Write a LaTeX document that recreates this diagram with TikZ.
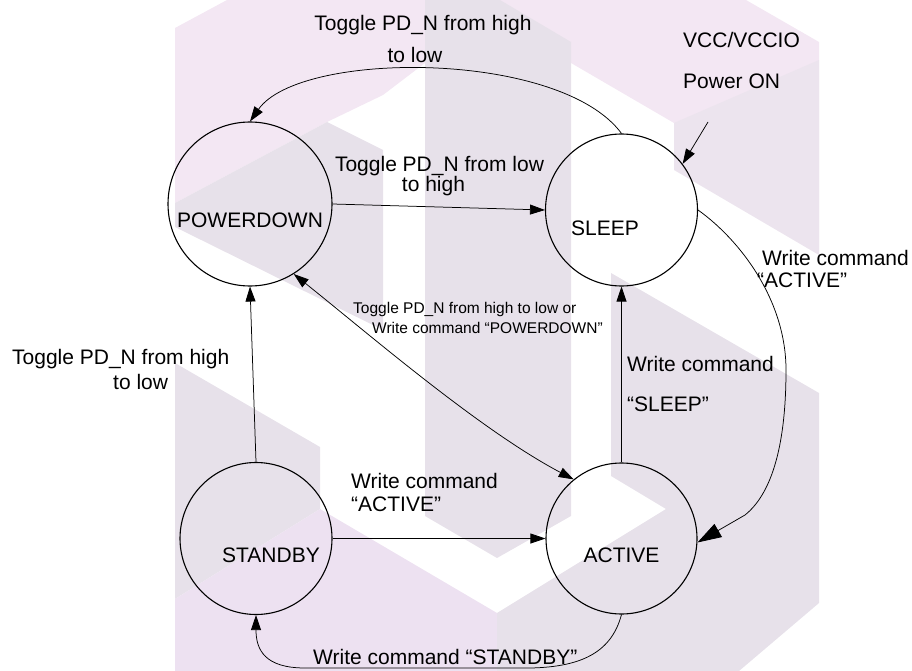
\documentclass[tikz,border=0pt]{standalone}
\usepackage{fontspec}
\setmainfont{Liberation Sans}
\usetikzlibrary{arrows.meta}
\definecolor{wmP}{HTML}{F3E7F3}
\definecolor{wmG}{HTML}{E7E1EA}
\definecolor{wmQ}{HTML}{ECE4EE}
\definecolor{wmL}{HTML}{EDE1F1}
\begin{document}
\begin{tikzpicture}[x=1pt,y=-1pt,
  state/.style={circle,draw,line width=1.1pt,inner sep=0pt},
  lbl/.style={inner sep=0pt,text height=15pt,text depth=0pt,font=\fontsize{21}{24}\selectfont},
  slbl/.style={inner sep=0pt,text height=11pt,text depth=0pt,font=\fontsize{15.5}{18}\selectfont},
  conn/.style={line width=0.75pt,-{Triangle[length=15pt,width=10pt]}},
  bigconn/.style={line width=0.75pt,-{Triangle[length=24pt,width=15pt]}},
  dblconn/.style={line width=0.75pt,{Triangle[length=15pt,width=10pt]}-{Triangle[length=15pt,width=10pt]}}]
\useasboundingbox (0,0) rectangle (912,671);
% watermark
\fill[wmP] (175,28) -- (227,0) -- (746,0) -- (819,42) -- (819,250) -- (674,167) -- (674,123) -- (571,63) -- (425,63) -- (383,95) -- (327,122) -- (175,203) -- cycle;
\fill[wmQ] (674,123) -- (819,60) -- (819,255) -- (674,170) -- cycle;
\fill[wmG] (425,0) -- (500,0) -- (571,42) -- (571,516) -- (497,558) -- (425,516) -- cycle;
\fill[wmG] (175,203) -- (327,122) -- (383,150) -- (383,330) -- (175,227) -- cycle;
\fill[wmG] (175,363) -- (320,447) -- (320,509) -- (175,599) -- cycle;
\fill[wmL] (175,599) -- (320,509) -- (497,613) -- (497,671) -- (175,671) -- cycle;
\fill[wmG] (611,273) -- (819,393) -- (819,603) -- (739,671) -- (497,671) -- (497,613) -- (666,509) -- (611,476) -- cycle;
% states
\node[state,minimum size=164pt] (pd) at (250,204) {};
\node[state,minimum size=152pt] (sl) at (621.5,210) {};
\node[state,minimum size=152pt] (sb) at (256,538.5) {};
\node[state,minimum size=151pt] (ac) at (621.5,538.5) {};
\node[lbl] (pdt) at (250,220) {POWERDOWN};
\node[lbl] (slt) at (605,227.5) {SLEEP};
\node[lbl] (sbt) at (271,554.5) {STANDBY};
\node[lbl] (act) at (621.5,554.5) {ACTIVE};
% labels
\node[lbl] (t1a) at (423,23) {Toggle PD\_N from high};
\node[lbl] (t1b) at (415,55) {to low};
\node[lbl,anchor=west] (v1) at (683,40) {VCC/VCCIO};
\node[lbl,anchor=west] (v2) at (683,81) {Power ON};
\node[lbl] (t2a) at (439.5,164) {Toggle PD\_N from low};
\node[lbl] (t2b) at (433.5,184) {to high};
\node[lbl,anchor=west] (w1a) at (762,258) {Write command};
\node[lbl,anchor=west] (w1b) at (757,280) {“ACTIVE”};
\node[lbl,anchor=west] (w2a) at (627,363.5) {Write command};
\node[lbl,anchor=west] (w2b) at (627,403.5) {“SLEEP”};
\node[slbl,anchor=west] (t3a) at (353,307.5) {Toggle PD\_N from high to low or};
\node[slbl,anchor=west] (t3b) at (372,328) {Write command “POWERDOWN”};
\node[lbl,anchor=west] (t4a) at (12,356.5) {Toggle PD\_N from high};
\node[lbl,anchor=west] (t4b) at (113,381.5) {to low};
\node[lbl,anchor=west] (w3a) at (351,480.5) {Write command};
\node[lbl,anchor=west] (w3b) at (351,504) {“ACTIVE”};
\node[lbl,anchor=west] (w4) at (313,656.5) {Write command “STANDBY”};
% connectors
\draw[conn] (pd.east) -- (sl.west);
\draw[conn] (sl.north) .. controls (560,50) and (300,50) .. (pd.north);
\coordinate (pwr) at (708,122);
\draw[conn] (pwr) -- (sl.37);
\draw[bigconn] (sl.east) .. controls (740,240) and (786,300) .. (786,370) .. controls (786,450) and (770,495) .. (745,515) -- (ac.-3);
\draw[conn] (ac.north) -- (sl.south);
\draw[dblconn] (pd.-58) .. controls (370,335) and (480,430) .. (ac.129);
\draw[conn] (sb.north) -- (pd.south);
\draw[conn] (sb.east) -- (ac.west);
\draw[conn] (ac.south) .. controls (612,650) and (585,667) .. (530,668) -- (305,668) .. controls (265,668) and (256,650) .. (sb.south);
\end{tikzpicture}
\end{document}
